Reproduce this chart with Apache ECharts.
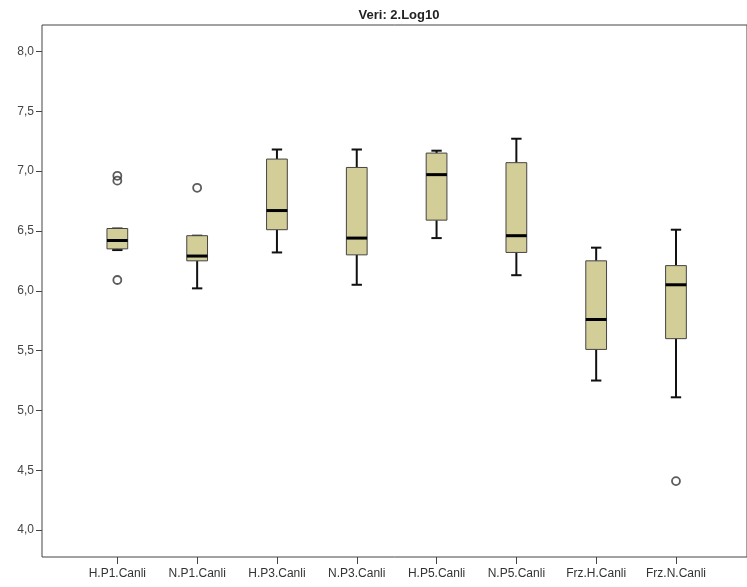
<!DOCTYPE html>
<html>
<head>
<meta charset="utf-8">
<script src="https://cdn.jsdelivr.net/npm/echarts@6/dist/echarts.min.js"></script>
<style>html,body{margin:0;padding:0;background:#fff;}#c{width:747px;height:587px;}</style>
</head>
<body>
<div id="c"></div>
<script>
const categories = ['H.P1.Canli','N.P1.Canli','H.P3.Canli','N.P3.Canli','H.P5.Canli','N.P5.Canli','Frz.H.Canli','Frz.N.Canli'];
const whiskerLow  = [6.34, 6.02, 6.32, 6.05, 6.44, 6.13, 5.25, 5.11];
const q1          = [6.35, 6.25, 6.51, 6.30, 6.59, 6.32, 5.51, 5.60];
const median      = [6.42, 6.29, 6.67, 6.44, 6.97, 6.46, 5.76, 6.05];
const q3          = [6.52, 6.46, 7.10, 7.03, 7.15, 7.07, 6.25, 6.21];
const whiskerHigh = [6.52, 6.46, 7.18, 7.18, 7.17, 7.27, 6.36, 6.51];
const outlierCat  = [0, 0, 0, 1, 7];
const outlierVal  = [6.96, 6.92, 6.09, 6.86, 4.41];
const yTicks = [4.0, 4.5, 5.0, 5.5, 6.0, 6.5, 7.0, 7.5, 8.0];

const boxData = categories.map((c, i) => [i, whiskerLow[i], q1[i], median[i], q3[i], whiskerHigh[i]]);
const outData = outlierCat.map((c, i) => [c, outlierVal[i]]);

const chart = echarts.init(document.getElementById('c'), null, {renderer: 'canvas'});
const font = '"Liberation Sans", Arial, sans-serif';
chart.setOption({
  animation: false,
  backgroundColor: '#fff',
  title: {
    text: 'Veri: 2.Log10',
    left: 394, top: 4, textAlign: 'center',
    textStyle: {fontFamily: font, fontSize: 13, fontWeight: 'bold', color: '#222'}
  },
  grid: {
    left: 42, top: 25, right: -2, bottom: 30,
    show: true, borderColor: '#444', borderWidth: 1, backgroundColor: '#fff'
  },
  xAxis: {
    type: 'value', min: -0.944, max: 7.89,
    splitLine: {show: false},
    axisLine: {show: false, onZero: false},
    axisTick: {show: true, length: 7, lineStyle: {color: '#444'}, customValues: categories.map((c, i) => i)},
    axisLabel: {
      customValues: categories.map((c, i) => i),
      formatter: v => categories[Math.round(v)],
      margin: 11, fontFamily: font, fontSize: 12, color: '#333'
    }
  },
  yAxis: {
    type: 'value', min: 3.776, max: 8.22,
    splitLine: {show: false},
    axisLine: {show: false, onZero: false},
    axisTick: {show: true, length: 6, lineStyle: {color: '#444'}, customValues: yTicks},
    axisLabel: {
      customValues: yTicks,
      formatter: v => v.toFixed(1).replace('.', ','),
      margin: 8, fontFamily: font, fontSize: 12, color: '#444'
    }
  },
  series: [
    {
      type: 'custom',
      data: boxData,
      encode: {x: 0, y: [1, 2, 3, 4, 5]},
      renderItem: function (params, api) {
        const x = api.value(0);
        const pLo = api.coord([x, api.value(1)]);
        const pQ1 = api.coord([x, api.value(2)]);
        const pMed = api.coord([x, api.value(3)]);
        const pQ3 = api.coord([x, api.value(4)]);
        const pHi = api.coord([x, api.value(5)]);
        const band = api.size([1, 0])[0];
        const hw = band * 0.13;
        const cw = band * 0.065;
        const cx = pMed[0];
        const wStyle = {stroke: '#111', lineWidth: 2};
        return {
          type: 'group',
          children: [
            {type: 'line', shape: {x1: cx, y1: pQ3[1], x2: cx, y2: pHi[1]}, style: wStyle},
            {type: 'line', shape: {x1: cx, y1: pQ1[1], x2: cx, y2: pLo[1]}, style: wStyle},
            {type: 'line', shape: {x1: cx - cw, y1: pHi[1], x2: cx + cw, y2: pHi[1]}, style: wStyle},
            {type: 'line', shape: {x1: cx - cw, y1: pLo[1], x2: cx + cw, y2: pLo[1]}, style: wStyle},
            {type: 'rect', shape: {x: cx - hw, y: pQ3[1], width: hw * 2, height: pQ1[1] - pQ3[1]},
              style: {fill: '#D3CD97', stroke: '#444', lineWidth: 1}},
            {type: 'line', shape: {x1: cx - hw, y1: pMed[1], x2: cx + hw, y2: pMed[1]},
              style: {stroke: '#000', lineWidth: 3}}
          ]
        };
      }
    },
    {
      type: 'scatter',
      data: outData,
      symbol: 'circle',
      symbolSize: 8,
      itemStyle: {color: 'rgba(255,255,255,0)', borderColor: '#333', borderWidth: 1.8}
    }
  ]
});
</script>
</body>
</html>
